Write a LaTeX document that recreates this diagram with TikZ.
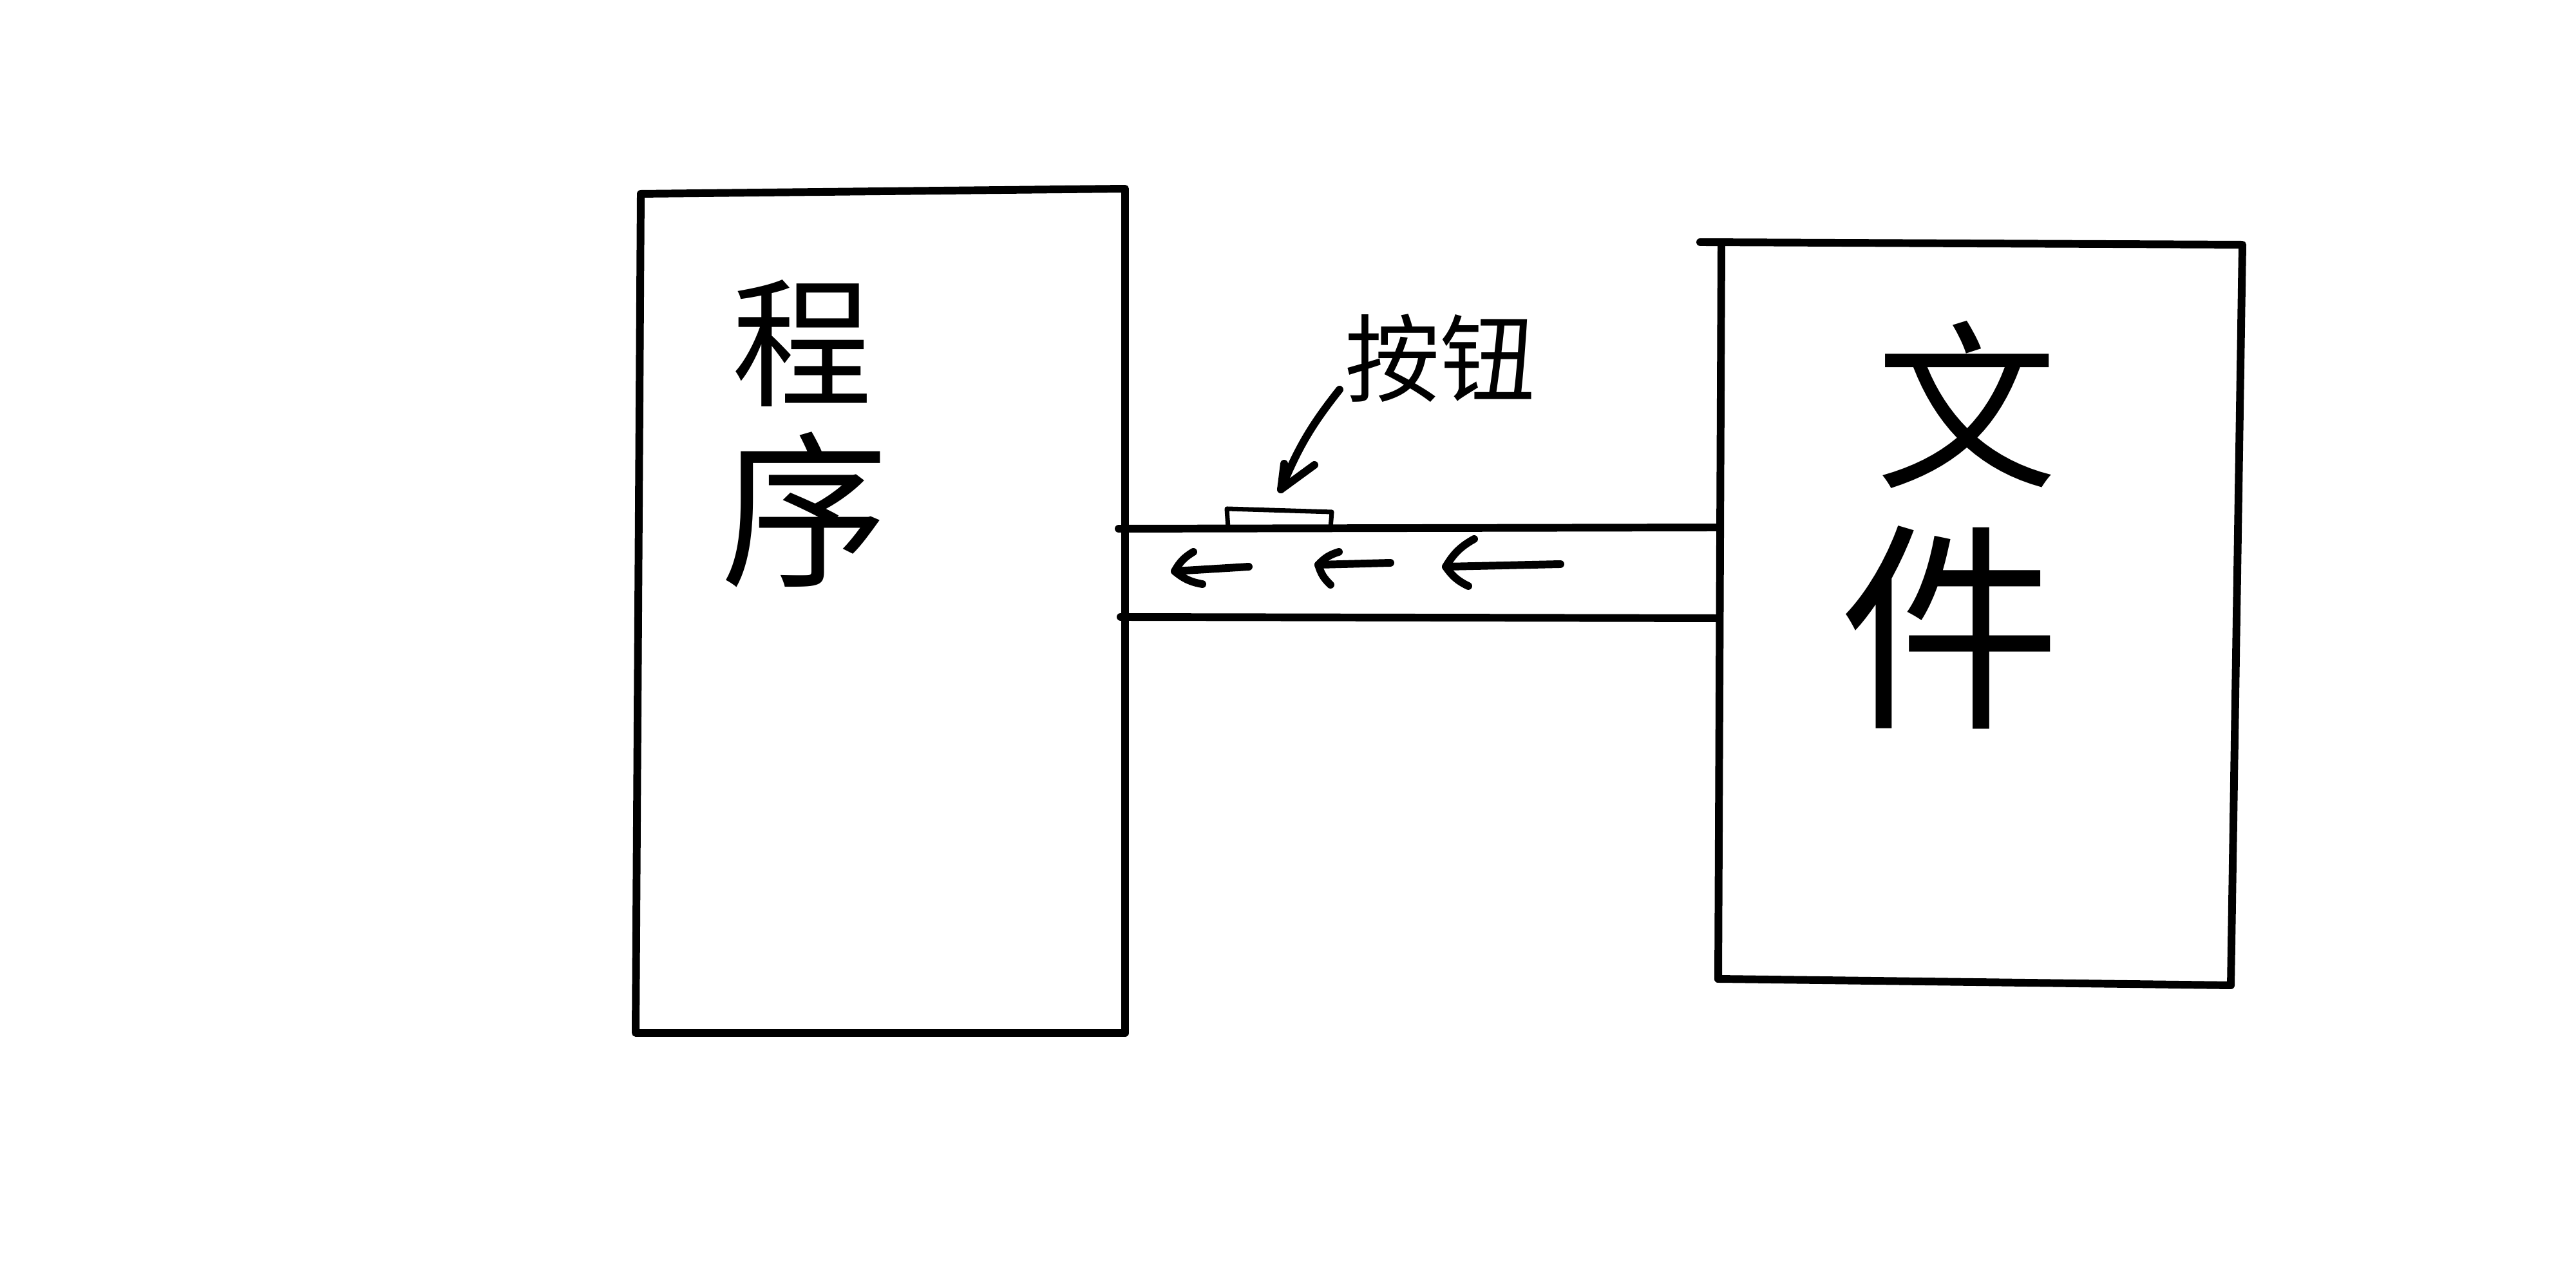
\documentclass[tikz,border=0pt]{standalone}
\usepackage{fontspec}
\newfontfamily\cjk{Noto Sans CJK SC}
\begin{document}
\begin{tikzpicture}[
  line cap=round, line join=round,
  stroke/.style={line width=3.4pt},
  thinstroke/.style={line width=2pt},
  label/.style={inner sep=0pt, align=center}
]
\useasboundingbox[fill=white] (0,0) rectangle (40,20);

% left box (program)
\draw[stroke] (9.95,16.99) -- (17.47,17.07) -- (17.47,3.96) -- (9.87,3.96) -- cycle;
% right box (file)
\draw[stroke] (26.40,16.24) -- (34.82,16.20) -- (34.64,4.70) -- (26.68,4.80);
\draw[stroke] (26.73,16.22) -- (26.68,4.80);

% channel
\coordinate (chTL) at (17.37,11.79);
\coordinate (chTR) at (26.68,11.81);
\coordinate (chBL) at (17.40,10.42);
\coordinate (chBR) at (26.68,10.40);
\draw[stroke] (chTL) -- (chTR);
\draw[stroke] (chBL) -- (chBR);

% button on the channel
\draw[thinstroke] (19.07,11.80) -- (19.05,12.10) -- (20.68,12.05) -- (20.66,11.80);

% labels
\node[label, font=\cjk\fontsize{62}{73}\selectfont] (prog1) at (12.45,14.67) {程};
\node[label, font=\cjk\fontsize{74}{80}\selectfont] (prog2) at (12.50,12.09) {序};
\node[label, font=\cjk\fontsize{80}{90}\selectfont] (file1) at (30.54,13.72) {文};
\node[label, font=\cjk\fontsize{98}{110}\selectfont] (file2) at (30.28,10.26) {件};
\node[label, font=\cjk\fontsize{42}{50}\selectfont] (btnlabel) at (22.36,14.44) {按钮};

% curved pointer from label to button
\coordinate (arrowstart) at (20.80,13.95);
\coordinate (arrowtip) at (19.89,12.40);
\draw[stroke] (arrowstart) to[bend right=8] (arrowtip);
\draw[stroke] (19.94,12.80) -- (arrowtip) -- (20.41,12.78);

% flow arrows inside the channel (pointing left)
\draw[stroke] (19.39,11.20) -- (18.24,11.13);
\draw[stroke] (18.53,11.43) to[bend right=15] (18.24,11.13) to[bend right=15] (18.67,10.93);
\draw[stroke] (21.59,11.26) -- (20.47,11.23);
\draw[stroke] (20.79,11.43) to[bend right=15] (20.47,11.23) to[bend right=15] (20.66,10.92);
\draw[stroke] (24.23,11.24) -- (22.45,11.20);
\draw[stroke] (22.89,11.63) to[bend right=15] (22.45,11.20) to[bend right=15] (22.80,10.90);
\end{tikzpicture}
\end{document}
